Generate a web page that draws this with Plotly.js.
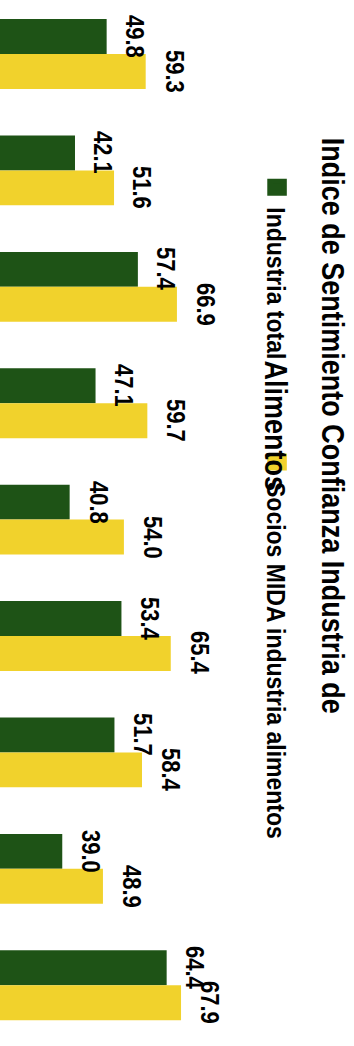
<!DOCTYPE html>
<html>
<head>
<meta charset="utf-8">
<script src="https://cdn.plot.ly/plotly-3.0.1.min.js"></script>
<style>
html,body{margin:0;padding:0;overflow:hidden;width:354px;height:1046px;background:#fff}
#chart{position:absolute;left:0;top:0;width:1046px;height:308px;transform-origin:0 0;
 transform:translate(354px,0) rotate(90deg) scale(1,1.1494);}
</style>
</head>
<body>
<div id="chart"></div>
<script>
// Data
const categories = ['P1','P2','P3','P4','P5','P6','P7','P8','P9'];
const industriaTotal = [49.8, 42.1, 57.4, 47.1, 40.8, 53.4, 51.7, 39.0, 64.4];
const sociosMida = [59.3, 51.6, 66.9, 59.7, 54.0, 65.4, 58.4, 48.9, 67.9];
const seriesNames = ['Industria total', 'Socios MIDA industria alimentos'];
const seriesColors = ['#1e5316', '#f1d22c'];
const titleLine1 = 'Indice de Sentimiento Confianza Industria de';
const titleLine2 = 'Alimentos';

const FONT = 'Liberation Sans, Arial, Helvetica, sans-serif';
const W = 1046, H = 308;

const traces = [
  {type:'bar', x:categories, y:industriaTotal, name:seriesNames[0], marker:{color:seriesColors[0]}, showlegend:false, hoverinfo:'skip'},
  {type:'bar', x:categories, y:sociosMida, name:seriesNames[1], marker:{color:seriesColors[1]}, showlegend:false, hoverinfo:'skip'},
  // legend entries (on a hidden overlay axis so they add no marks)
  {type:'bar', x:[0], y:[0], xaxis:'x2', yaxis:'y2', name:'<b>' + seriesNames[0] + '</b>', legend:'legend', marker:{color:seriesColors[0], line:{color:seriesColors[0], width:7}}, showlegend:true, hoverinfo:'skip'},
  {type:'bar', x:[0], y:[0], xaxis:'x2', yaxis:'y2', name:'<b>' + seriesNames[1] + '</b>', legend:'legend2', marker:{color:seriesColors[1], line:{color:seriesColors[1], width:7}}, showlegend:true, hoverinfo:'skip'}
];

const annotations = [];
const offsets = [-0.15, 0.15];
[industriaTotal, sociosMida].forEach((arr, s) => {
  arr.forEach((v, i) => {
    annotations.push({
      x: i + offsets[s], y: v, xref:'x', yref:'y',
      text: '<b>' + v.toFixed(1) + '</b>', showarrow:false,
      xanchor:'center', yanchor:'bottom', yshift:10,
      font:{family:FONT, size:22, color:'#000'}
    });
  });
});

const legendFont = {family:FONT, size:23, color:'#000'};
const layout = {
  width: W, height: H,
  margin:{l:0, r:0, t:0, b:0, pad:0},
  paper_bgcolor:'#fff', plot_bgcolor:'#fff',
  barmode:'group', bargap:0.4, bargroupgap:0,
  title:{
    text:"<span style='font-size:27px'>" + titleLine1 + "</span><br><span style='font-size:27px'>" + titleLine2 + "</span>",
    font:{family:FONT, size:38, color:'#000', weight:'bold'},
    xref:'container', yref:'container', x:0.407, xanchor:'center', y:0.909, yanchor:'middle'
  },
  xaxis:{type:'category', range:[-0.464, 8.522], showticklabels:false, showgrid:false, zeroline:false, showline:false, ticks:''},
  yaxis:{range:[23.85, 109.98], showticklabels:false, showgrid:false, zeroline:false, showline:false, ticks:''},
  xaxis2:{overlaying:'x', visible:false, range:[-1, 1]},
  yaxis2:{overlaying:'y', visible:false, range:[10, 20]},
  showlegend:true,
  legend:{orientation:'h', x:0.160, xanchor:'left', y:1-67/308, yanchor:'middle',
    bgcolor:'rgba(0,0,0,0)', font:legendFont},
  legend2:{orientation:'h', x:0.4226, xanchor:'left', y:1-67/308, yanchor:'middle',
    bgcolor:'rgba(0,0,0,0)', font:legendFont},
  annotations: annotations
};

Plotly.newPlot('chart', traces, layout, {displayModeBar:false, staticPlot:true, responsive:false});
</script>
</body>
</html>
